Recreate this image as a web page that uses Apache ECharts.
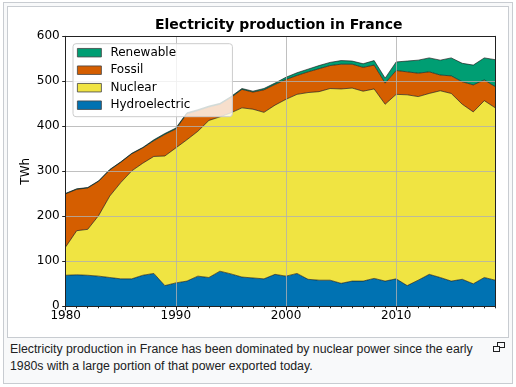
<!DOCTYPE html>
<html><head><meta charset="utf-8">
<script src="https://cdn.jsdelivr.net/npm/echarts@6/dist/echarts.min.js"></script>
<style>
html,body{margin:0;padding:0;background:#fff;width:516px;height:387px;overflow:hidden;}
#outer{position:absolute;left:3px;top:2px;width:508px;height:380px;border:1px solid #c8ccd1;background:#f8f9fa;}
#inner{position:absolute;left:7px;top:6px;width:500px;height:330px;border:1px solid #c8ccd1;background:#fff;}
#cap{position:absolute;left:10px;top:341px;width:480px;font-family:"Liberation Sans",Arial,sans-serif;font-size:12.3px;line-height:16.8px;color:#202122;}
#icon{position:absolute;left:493px;top:342px;}
#chart{position:absolute;left:0;top:0;width:516px;height:387px;}
</style></head>
<body>
<div id="outer"></div>
<div id="inner"></div>
<div id="cap">Electricity production in France has been dominated by nuclear power since the early 1980s with a large portion of that power exported today.</div>
<svg id="icon" width="12" height="10" viewBox="0 0 12 10"><rect x="4.5" y="0.5" width="7" height="5" fill="none" stroke="#202122" stroke-width="1"/><rect x="0.5" y="4.5" width="6" height="5" fill="#f8f9fa" stroke="#202122" stroke-width="1"/></svg>
<div id="chart"></div>
<script>
const years = ['1980','1981','1982','1983','1984','1985','1986','1987','1988','1989',
  '1990','1991','1992','1993','1994','1995','1996','1997','1998','1999',
  '2000','2001','2002','2003','2004','2005','2006','2007','2008','2009',
  '2010','2011','2012','2013','2014','2015','2016','2017','2018','2019'];
const xTickLabels = ['1980','1990','2000','2010'];
const hydro = [69,70,69,67,64,61,61,69,73,46, 52,56,67,64,78,72,65,63,61,71, 67,73,60,58,58,51,56,56,62,56, 61,46,58,71,64,56,60,50,64,58];
const nuclear = [63,98,102,135,181,214,240,249,260,288, 300,314,322,349,343,358,376,375,370,376, 393,398,415,419,426,432,429,422,421,393, 410,424,408,402,415,417,389,382,393,383];
const fossil = [118,92,92,76,58,45,38,34,35,48, 42,58,46,30,28,34,41,38,50,46, 44,42,46,51,51,55,53,53,53,47, 53,51,52,48,35,39,50,60,46,47];
const renewable = [1,1,1,1,1,1,1,1,2,2, 2,2,2,2,2,2,2,2,3,3, 5,6,6,7,7,8,7,8,10,11, 19,24,29,31,33,40,41,44,49,60];
const legendOrder = ['Renewable','Fossil','Nuclear','Hydroelectric'];
const colors = {Hydroelectric:'#0072B2', Nuclear:'#F0E442', Fossil:'#D55E00', Renewable:'#009E73'};

const FONT = 'DejaVu Sans';
const gridColor = 'rgba(176,176,176,0.8)';
const isMajor = (i, v) => xTickLabels.indexOf(String(v)) >= 0;
function mk(name, arr){
  return {
    name: name, type: 'line', stack: 'total', symbol: 'none', z: 2,
    data: arr,
    lineStyle: {color: 'rgba(20,20,20,0.8)', width: 0.8},
    areaStyle: {color: colors[name], opacity: 1},
    itemStyle: {color: colors[name]},
    emphasis: {disabled: true}
  };
}
const chart = echarts.init(document.getElementById('chart'), null, {renderer:'canvas'});
chart.setOption({
  backgroundColor: 'transparent',
  animation: false,
  title: {text: 'Electricity production in France', left: 155, top: 18, padding: 0,
    textStyle: {fontFamily: FONT, fontSize: 14, fontWeight: 'bold', color: '#000'}},
  grid: {left: 65.7, right: 20.7, top: 36.3, bottom: 80.7},
  legend: {
    orient: 'vertical', left: 73, top: 43.7, data: legendOrder, icon: 'rect',
    itemWidth: 24, itemHeight: 8.5, itemGap: 5.5, padding: [3, 42, 5.5, 4],
    backgroundColor: 'rgba(255,255,255,0.8)', borderColor: '#cccccc', borderWidth: 1, borderRadius: 3,
    textStyle: {fontFamily: FONT, fontSize: 12, color: '#000', padding: [0,0,0,4]},
    itemStyle: {borderColor: '#444', borderWidth: 0.8}
  },
  xAxis: [
    {type: 'category', data: years, boundaryGap: false, position: 'bottom', z: 3,
      axisLine: {show: true, lineStyle: {color: '#222', width: 1}},
      axisTick: {show: true, length: 4, interval: isMajor, lineStyle: {color: '#222'}},
      axisLabel: {fontFamily: FONT, fontSize: 12, color: '#000', margin: 4, interval: isMajor},
      splitLine: {show: true, interval: isMajor, lineStyle: {color: gridColor, width: 1}}},
    {type: 'category', data: years, boundaryGap: false, position: 'bottom', z: 3,
      axisLine: {show: false}, axisTick: {show: true, length: 2, interval: 0, lineStyle: {color: '#222'}},
      axisLabel: {show: false}, splitLine: {show: false}},
    {type: 'category', data: years, boundaryGap: false, position: 'top', z: 3,
      axisLine: {show: true, lineStyle: {color: '#222', width: 1}}, axisTick: {show: false},
      axisLabel: {show: false}, splitLine: {show: false}}
  ],
  yAxis: [
    {type: 'value', min: 0, max: 600, interval: 100, position: 'left', z: 3,
      name: 'TWh', nameLocation: 'middle', nameGap: 33.5, nameMoveOverlap: false,
      nameTextStyle: {fontFamily: FONT, fontSize: 12, color: '#000'},
      axisLine: {show: true, lineStyle: {color: '#222', width: 1}},
      axisTick: {show: true, length: 3.5, lineStyle: {color: '#222'}},
      axisLabel: {fontFamily: FONT, fontSize: 12, color: '#000', margin: 6},
      splitLine: {show: true, lineStyle: {color: gridColor, width: 1}}},
    {type: 'value', min: 0, max: 600, position: 'right', z: 3,
      axisLine: {show: true, lineStyle: {color: '#222', width: 1}}, axisTick: {show: false},
      axisLabel: {show: false}, splitLine: {show: false}}
  ],
  series: [mk('Hydroelectric', hydro), mk('Nuclear', nuclear), mk('Fossil', fossil), mk('Renewable', renewable)]
});
</script>
</body></html>
